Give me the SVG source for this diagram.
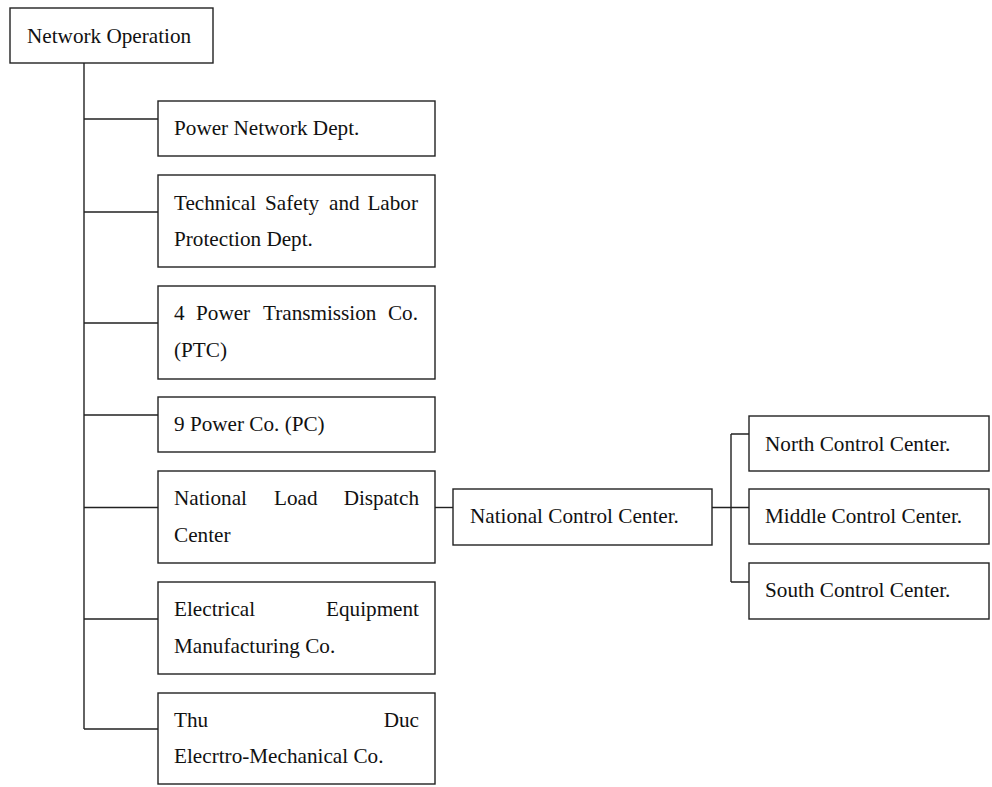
<svg xmlns="http://www.w3.org/2000/svg" width="992" height="787" viewBox="0 0 992 787">
  <style>
    .box { fill: #ffffff; stroke: #222222; stroke-width: 1.4; }
    .link { fill: none; stroke: #222222; stroke-width: 1.4; }
    text { font-family: "Liberation Serif", "Times New Roman", serif; font-size: 21.2px; fill: #111111; }
    .end { text-anchor: end; }
  </style>
  <rect width="992" height="787" fill="#ffffff"/>

  <!-- connectors -->
  <g id="connectors">
    <path class="link" d="M84 63 V729"/>
    <path class="link" d="M84 119 H158 M84 212 H158 M84 323 H158 M84 415 H158 M84 507.5 H158 M84 619 H158 M84 729 H158"/>
    <path class="link" d="M435 507.5 H453"/>
    <path class="link" d="M712 507.5 H749"/>
    <path class="link" d="M731 434 V582 M731 434 H749 M731 582 H749"/>
  </g>

  <g id="network-operation">
    <rect class="box" x="10" y="8" width="203" height="55"/>
    <text x="27" y="43">Network Operation</text>
  </g>

  <g id="power-network-dept">
    <rect class="box" x="158" y="101" width="277" height="55"/>
    <text x="174" y="135">Power Network Dept.</text>
  </g>

  <g id="technical-safety">
    <rect class="box" x="158" y="175" width="277" height="92"/>
    <text x="174" y="210">Technical</text>
    <text x="265" y="210">Safety</text>
    <text x="329" y="210">and</text>
    <text class="end" x="418" y="210">Labor</text>
    <text x="174" y="246">Protection Dept.</text>
  </g>

  <g id="power-transmission">
    <rect class="box" x="158" y="286" width="277" height="93"/>
    <text x="174" y="320">4</text>
    <text x="196" y="320">Power</text>
    <text x="263" y="320">Transmission</text>
    <text class="end" x="418" y="320">Co.</text>
    <text x="174" y="357">(PTC)</text>
  </g>

  <g id="power-co">
    <rect class="box" x="158" y="397" width="277" height="55"/>
    <text x="174" y="431">9 Power Co. (PC)</text>
  </g>

  <g id="load-dispatch">
    <rect class="box" x="158" y="471" width="277" height="92"/>
    <text x="174" y="505">National</text>
    <text x="274" y="505">Load</text>
    <text class="end" x="419" y="505">Dispatch</text>
    <text x="174" y="542">Center</text>
  </g>

  <g id="equipment-manufacturing">
    <rect class="box" x="158" y="582" width="277" height="92"/>
    <text x="174" y="616">Electrical</text>
    <text class="end" x="419" y="616">Equipment</text>
    <text x="174" y="653">Manufacturing Co.</text>
  </g>

  <g id="thu-duc">
    <rect class="box" x="158" y="693" width="277" height="91"/>
    <text x="174" y="727">Thu</text>
    <text class="end" x="419" y="727">Duc</text>
    <text x="174" y="763">Elecrtro-Mechanical Co.</text>
  </g>

  <g id="national-control">
    <rect class="box" x="453" y="489" width="259" height="56"/>
    <text x="470" y="523">National Control Center.</text>
  </g>

  <g id="north-control">
    <rect class="box" x="749" y="416" width="240" height="55"/>
    <text x="765" y="451">North Control Center.</text>
  </g>

  <g id="middle-control">
    <rect class="box" x="749" y="489" width="240" height="55"/>
    <text x="765" y="523">Middle Control Center.</text>
  </g>

  <g id="south-control">
    <rect class="box" x="749" y="563" width="240" height="56"/>
    <text x="765" y="597">South Control Center.</text>
  </g>
</svg>
